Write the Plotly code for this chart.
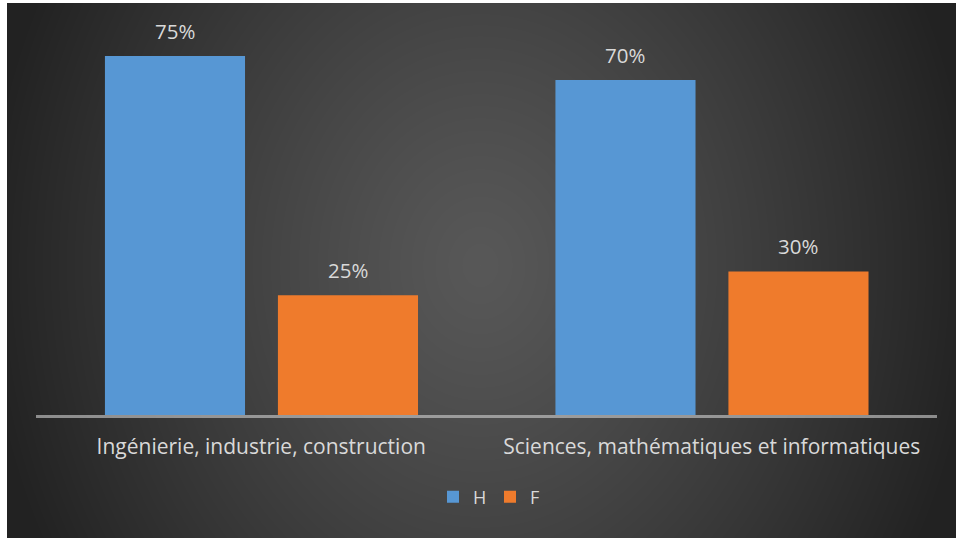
import base64
import struct
import zlib

import numpy as np
import plotly.graph_objects as go

# --- data -------------------------------------------------------------
categories = ["Ingénierie, industrie, construction",
              "Sciences, mathématiques et informatiques"]
series_names = ["H", "F"]
values_h = [75, 70]
values_f = [25, 30]
label_h = ["75%", "70%"]
label_f = ["25%", "30%"]

# --- layout constants ---------------------------------------------------
W, H = 956, 538
M_L, M_R, M_T, M_B = 36, 19, 32, 123
Y_MAX = 80
PLOT_W = W - M_L - M_R
PLOT_H = H - M_T - M_B
CAT_PX = PLOT_W / len(categories)

BAR_W = 0.311          # bar width as a fraction of one category
OFF_H = -0.347         # left edge of the H bar relative to category centre
OFF_F = 0.037          # left edge of the F bar

TEXT = "#d9d9d9"
FONT = "Open Sans, Segoe UI, sans-serif"

# --- radial dark background (grayscale PNG) ----------------------------
BG_X0, BG_Y0 = 7, 3
bw, bh = W - BG_X0, H - BG_Y0
yy, xx = np.mgrid[0:bh, 0:bw].astype(float)
cx, cy = 480 - BG_X0, 265 - BG_Y0
r = np.sqrt(((xx - cx) / 500.0) ** 2 + ((yy - cy) / 600.0) ** 2)
r = np.clip(r, 0, 1)
shade = (88 - 54 * r ** 1.2).astype(np.uint8)


def gray_png(a):
    h, w = a.shape
    raw = b"".join(b"\x00" + a[i].tobytes() for i in range(h))

    def chunk(tag, data):
        c = struct.pack(">I", len(data)) + tag + data
        return c + struct.pack(">I", zlib.crc32(tag + data) & 0xFFFFFFFF)

    return (b"\x89PNG\r\n\x1a\n"
            + chunk(b"IHDR", struct.pack(">IIBBBBB", w, h, 8, 0, 0, 0, 0))
            + chunk(b"IDAT", zlib.compress(raw, 9))
            + chunk(b"IEND", b""))


bg_uri = "data:image/png;base64," + base64.b64encode(gray_png(shade)).decode()

# --- figure -------------------------------------------------------------
fig = go.Figure()
fig.add_trace(go.Bar(
    x=categories, y=values_h, name=series_names[0],
    width=BAR_W, offset=OFF_H,
    marker=dict(color="#5797d4", line=dict(width=0)),
    hoverinfo="skip",
))
fig.add_trace(go.Bar(
    x=categories, y=values_f, name=series_names[1],
    width=BAR_W, offset=OFF_F,
    marker=dict(color="#ef7b2c", line=dict(width=0)),
    hoverinfo="skip",
))

# value labels above each bar
annotations = []
for vals, labels, off in ((values_h, label_h, OFF_H), (values_f, label_f, OFF_F)):
    for cat, v, t in zip(categories, vals, labels):
        annotations.append(dict(
            x=cat, y=v, xref="x", yref="y", text=t, showarrow=False,
            xshift=(off + BAR_W / 2) * CAT_PX, yshift=25,
            font=dict(family=FONT, size=20.5, color=TEXT),
        ))

fig.update_layout(
    width=W, height=H,
    margin=dict(l=M_L, r=M_R, t=M_T, b=M_B, pad=0),
    paper_bgcolor="white",
    plot_bgcolor="rgba(0,0,0,0)",
    barmode="group",
    showlegend=True,
    legend=dict(
        orientation="h", x=(490 - M_L) / PLOT_W, xanchor="center",
        y=-(497 - (H - M_B)) / PLOT_H, yanchor="middle",
        font=dict(family=FONT, size=18, color=TEXT),
        bgcolor="rgba(0,0,0,0)", itemwidth=30, tracegroupgap=0,
        entrywidth=12, entrywidthmode="pixels",
    ),
    xaxis=dict(
        showline=True, linecolor="rgba(210,210,210,0.6)", linewidth=3,
        showgrid=False, zeroline=False, ticks="",
        tickfont=dict(family=FONT, size=21, color=TEXT),
        ticklabelstandoff=11,
        fixedrange=True,
    ),
    yaxis=dict(
        range=[0, Y_MAX], visible=False, showgrid=False, zeroline=False,
        fixedrange=True,
    ),
    annotations=annotations,
    images=[dict(
        source=bg_uri, xref="paper", yref="paper",
        x=(BG_X0 - M_L) / PLOT_W, y=((H - M_B) - BG_Y0) / PLOT_H,
        sizex=bw / PLOT_W, sizey=bh / PLOT_H,
        xanchor="left", yanchor="top", sizing="stretch", layer="below",
    )],
)

fig.write_html("out.html", config={"displayModeBar": False})
